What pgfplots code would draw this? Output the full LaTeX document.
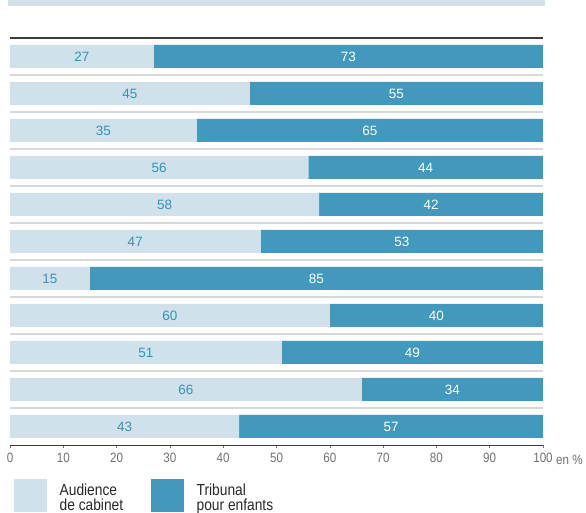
\documentclass[border=0pt]{standalone}
\usepackage{fontspec}
\setmainfont{Liberation Sans}
\newfontfamily\condfont{Liberation Sans}[FakeStretch=0.86]
\usepackage{pgfplots}
\pgfplotsset{compat=1.18}
\usepackage{pgfplotstable}
\usetikzlibrary{calc}
\definecolor{lightc}{RGB}{208,225,235}
\definecolor{darkc}{RGB}{66,152,189}
\definecolor{labelblue}{RGB}{52,146,190}
\definecolor{tickgray}{RGB}{112,112,112}
\definecolor{sepgray}{RGB}{216,216,216}
\definecolor{lineblack}{RGB}{60,60,60}
\definecolor{legtext}{RGB}{40,40,40}

\pgfplotstableread{
y a b
10 27 73
9 45 55
8 35 65
7 56 44
6 58 42
5 47 53
4 15 85
3 60 40
2 51 49
1 66 34
0 43 57
}\shares

\newcommand\twoline[2]{\raisebox{-5pt}{\vbox{\hbox{#1}\hbox{#2}}}}

\begin{document}
\begin{tikzpicture}
\begin{axis}[
  scale only axis, width=533pt, height=407pt,
  xbar stacked, bar width=23pt,
  xmin=0, xmax=100, ymin=-0.5, ymax=10.5,
  axis line style={draw=none},
  clip=false,
  xtick={0,10,...,100},
  xtick pos=left, tick align=outside,
  major tick length=3pt,
  xtick style={draw=tickgray, line width=0.6pt},
  xticklabel style={font=\condfont\fontsize{13.5}{15}\selectfont, text=tickgray, yshift=-2pt},
  /pgf/number format/assume math mode=true,
  ytick={0.5,1.5,...,9.5}, yticklabels={}, ytick style={draw=none},
  ymajorgrids, major grid style={draw=sepgray, line width=1.5pt},
  legend columns=2,
  legend style={at={(rel axis cs:0,0)}, anchor=north west, xshift=4pt, yshift=-34pt,
    draw=none, fill=none, inner sep=0pt,
    font=\condfont\fontsize{16}{15}\selectfont, text=legtext,
    nodes={inner sep=0pt},
    /tikz/every odd column/.style={column sep=12.5pt},
    /tikz/every even column/.style={column sep=28pt}},
  legend image code/.code={\fill[#1] (0pt,-16.5pt) rectangle (33pt,16.5pt);},
  nodes near coords={\pgfmathprintnumber{\pgfplotspointmeta}},
  point meta=explicit,
]
\addplot[fill=lightc, draw=none,
  every node near coord/.style={anchor=center, text=labelblue, font=\fontsize{13.5}{15}\selectfont}]
  table[x=a, y=y, meta=a] {\shares};
\addlegendentry{\twoline{Audience}{de cabinet}}
\addplot[fill=darkc, draw=none,
  every node near coord/.style={anchor=center, text=white, font=\fontsize{13.5}{15}\selectfont}]
  table[x=b, y=y, meta=b] {\shares};
\addlegendentry{\twoline{Tribunal}{pour enfants}}
\draw[lineblack, line width=1.3pt] (rel axis cs:0,1) -- (rel axis cs:1,1);
\draw[lineblack, line width=0.9pt] (rel axis cs:0,0) -- (rel axis cs:1,0);
\node[anchor=north west, inner sep=0pt, xshift=13pt, yshift=-10pt, font=\condfont\fontsize{13.5}{15}\selectfont, text=tickgray] at (rel axis cs:1,0) {en \%};
\coordinate (bl) at (rel axis cs:0,0);
\coordinate (tl) at (rel axis cs:0,1);
\coordinate (tr) at (rel axis cs:1,1);
\end{axis}
\fill[lightc] ($(tl)+(-2.5pt,32pt)$) rectangle ($(tr)+(2pt,38pt)$);
\pgfresetboundingbox
\path ($(bl)+(-10pt,-68pt)$) rectangle ($(tr)+(43pt,38pt)$);
\end{tikzpicture}
\end{document}
